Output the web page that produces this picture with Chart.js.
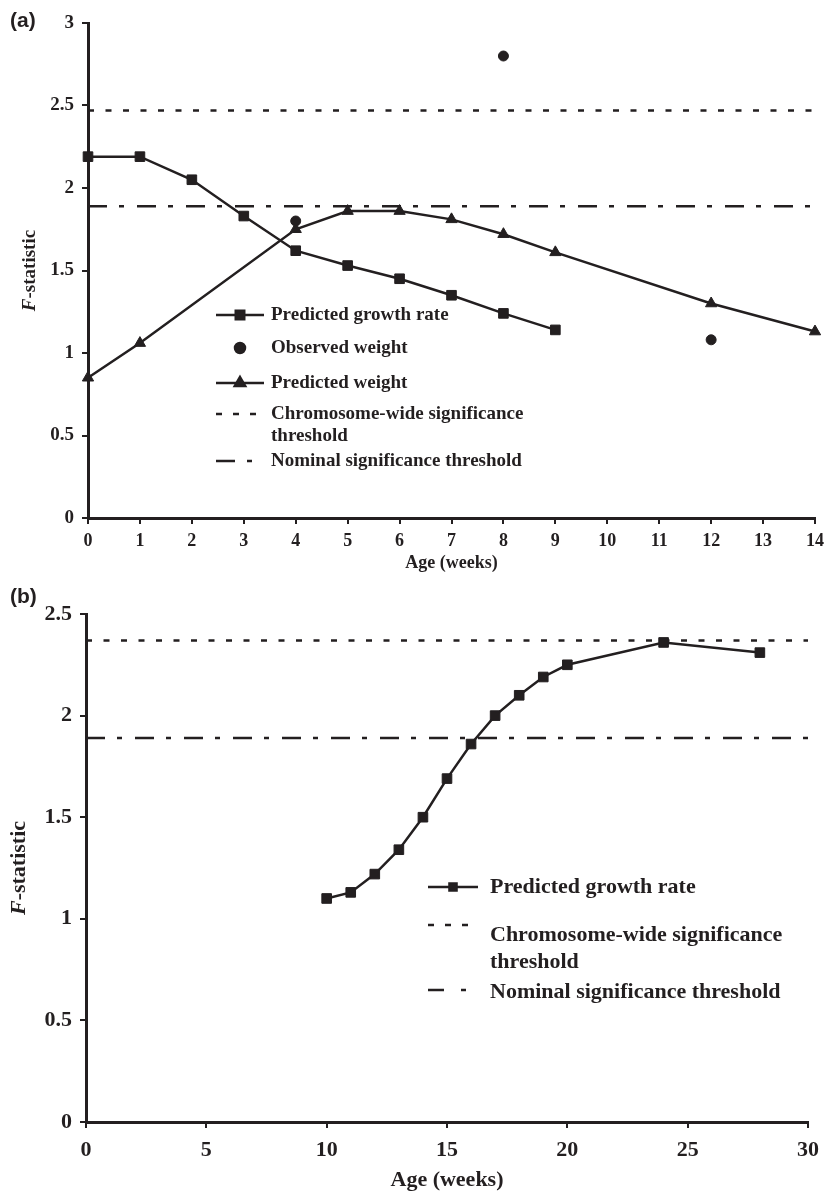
<!DOCTYPE html>
<html>
<head>
<meta charset="utf-8">
<script src="https://cdn.jsdelivr.net/npm/chart.js@4.4.1/dist/chart.umd.min.js"></script>
<style>
    html, body { margin: 0; padding: 0; background: #fff; }
    #chartA { position: absolute; left: 0; top: 0; }
    #chartB { position: absolute; left: 0; top: 575px; }
</style>
</head>
<body>
<canvas id="chartA" width="831" height="575"></canvas>
<canvas id="chartB" width="831" height="621"></canvas>
<script>
// ---- data, panel (a) ----
const growthWeeksA = [0, 1, 2, 3, 4, 5, 6, 7, 8, 9];
const growthRateA = [2.19, 2.19, 2.05, 1.83, 1.62, 1.53, 1.45, 1.35, 1.24, 1.14];
const weightWeeksA = [0, 1, 4, 5, 6, 7, 8, 9, 12, 14];
const predWeightA = [0.85, 1.06, 1.75, 1.86, 1.86, 1.81, 1.72, 1.61, 1.30, 1.13];
const obsWeeksA = [4, 8, 12];
const obsWeightA = [1.80, 2.80, 1.08];
const thresholdsA = [2.47, 1.89]; // chromosome-wide, nominal
const xTicksA = [0, 1, 2, 3, 4, 5, 6, 7, 8, 9, 10, 11, 12, 13, 14];
const yTicksA = [0, 0.5, 1, 1.5, 2, 2.5, 3];

// ---- data, panel (b) ----
const growthWeeksB = [10, 11, 12, 13, 14, 15, 16, 17, 18, 19, 20, 24, 28];
const growthRateB = [1.10, 1.13, 1.22, 1.34, 1.50, 1.69, 1.86, 2.00, 2.10, 2.19, 2.25, 2.36, 2.31];
const thresholdsB = [2.37, 1.89];
const xTicksB = [0, 5, 10, 15, 20, 25, 30];
const yTicksB = [0, 0.5, 1, 1.5, 2, 2.5];

const ink = '#231f20';
const serif = "'Liberation Serif', 'Times New Roman', serif";
const dotted = [6, 11.5];
const dashDot = [19, 12, 5, 13];

const pts = (xs, ys) => xs.map((x, i) => ({ x: x, y: ys[i] }));
const flat = (x0, x1, y) => [{ x: x0, y: y }, { x: x1, y: y }];

// draws panel letter, y title with italic F, and the in-plot legend
const overlay = {
    id: 'overlay',
    afterDraw(chart, args, o) {
        const ctx = chart.ctx;
        ctx.save();
        ctx.fillStyle = ink;
        ctx.strokeStyle = ink;

        // panel letter
        ctx.font = 'bold ' + o.letterSize + "px 'Liberation Sans', Arial, sans-serif";
        ctx.textBaseline = 'middle';
        ctx.textAlign = 'left';
        ctx.fillText(o.letter, o.letterX, o.letterY);

        // y title
        const area = chart.chartArea;
        const fItalic = 'italic bold ' + o.titleSize + 'px ' + serif;
        const fBold = 'bold ' + o.titleSize + 'px ' + serif;
        ctx.font = fItalic;
        const wF = ctx.measureText('F').width;
        ctx.font = fBold;
        const wR = ctx.measureText('-statistic').width;
        ctx.save();
        ctx.translate(o.titleX, (area.top + area.bottom) / 2);
        ctx.rotate(-Math.PI / 2);
        const start = -(wF + wR) / 2;
        ctx.font = fItalic;
        ctx.fillText('F', start, 0);
        ctx.font = fBold;
        ctx.fillText('-statistic', start + wF, 0);
        ctx.restore();

        // legend
        const L = o.legend;
        ctx.font = 'bold ' + L.size + 'px ' + serif;
        L.items.forEach(it => {
            ctx.lineWidth = 2.5;
            if (it.dash) {
                ctx.setLineDash(it.dash);
                ctx.beginPath();
                ctx.moveTo(L.x0, it.y);
                ctx.lineTo(L.x1, it.y);
                ctx.stroke();
                ctx.setLineDash([]);
            } else if (it.line) {
                ctx.beginPath();
                ctx.moveTo(L.x0, it.y);
                ctx.lineTo(L.x1, it.y);
                ctx.stroke();
            }
            if (it.marker) {
                Chart.helpers.drawPoint(ctx, { pointStyle: it.marker, radius: it.r, borderWidth: 1 },
                    (L.x0 + L.x1) / 2, it.y);
                ctx.fill();
            }
            it.text.forEach((t, k) => ctx.fillText(t, L.tx, it.ty + k * L.lineGap));
        });
        ctx.restore();
    }
};

function axes(xmin, xmax, xTicks, yTicks, o) {
    const font = size => ({ family: serif, size: size, weight: 'bold' });
    const grid = { drawOnChartArea: false, drawTicks: true, tickLength: 6, tickWidth: 2, tickColor: ink, color: ink, lineWidth: 2 };
    return {
        x: {
            type: 'linear', min: xmin, max: xmax,
            afterBuildTicks: s => { s.ticks = xTicks.map(v => ({ value: v })); },
            afterFit: s => { s.height = o.xHeight; },
            border: { display: true, color: ink, width: 3 },
            grid: grid,
            ticks: { color: ink, font: font(o.xTickSize), padding: o.xPad, maxRotation: 0, autoSkip: false,
                callback: v => String(v) },
            title: { display: true, text: 'Age (weeks)', color: ink,
                font: font(o.axisTitleSize), padding: { top: 0, bottom: o.titlePad } }
        },
        y: {
            type: 'linear', min: yTicks[0], max: yTicks[yTicks.length - 1],
            afterBuildTicks: s => { s.ticks = yTicks.map(v => ({ value: v })); },
            afterFit: s => { s.width = o.yWidth; },
            border: { display: true, color: ink, width: 3 },
            grid: grid,
            ticks: { color: ink, font: font(o.yTickSize), padding: 8, autoSkip: false,
                callback: v => String(v) }
        }
    };
}

const lineStyle = (marker, r) => ({
    borderColor: ink, backgroundColor: ink, borderWidth: 2.5,
    pointStyle: marker, pointRadius: r, pointHoverRadius: r, pointBorderWidth: 1, clip: false
});
const threshStyle = dash => ({
    borderColor: ink, borderWidth: 2.5, borderDash: dash, pointRadius: 0, clip: false
});

new Chart(document.getElementById('chartA'), {
    type: 'line',
    data: {
        datasets: [
            Object.assign({ label: 'Predicted growth rate', data: pts(growthWeeksA, growthRateA) }, lineStyle('rect', 6.8)),
            Object.assign({ label: 'Observed weight', data: pts(obsWeeksA, obsWeightA), showLine: false }, lineStyle('circle', 5)),
            Object.assign({ label: 'Predicted weight', data: pts(weightWeeksA, predWeightA) }, lineStyle('triangle', 6.5)),
            Object.assign({ label: 'Chromosome-wide significance threshold', data: flat(0, 14, thresholdsA[0]) }, threshStyle(dotted)),
            Object.assign({ label: 'Nominal significance threshold', data: flat(0, 14, thresholdsA[1]) }, threshStyle(dashDot))
        ]
    },
    options: {
        responsive: false,
        animation: false,
        layout: { padding: { left: 0, right: 9, top: 23, bottom: 0 } },
        scales: axes(0, 14, xTicksA, yTicksA, { xTickSize: 18, yTickSize: 19, xPad: 7, xHeight: 57, yWidth: 88, axisTitleSize: 18, titlePad: 1 }),
        plugins: {
            legend: { display: false },
            tooltip: { enabled: false },
            overlay: {
                letter: '(a)', letterSize: 21, letterX: 10, letterY: 21,
                titleSize: 19, titleX: 30,
                legend: {
                    size: 19, x0: 216, x1: 264, tx: 271, lineGap: 22,
                    items: [
                        { y: 315, ty: 315, line: true, marker: 'rect', r: 6, text: ['Predicted growth rate'] },
                        { y: 348, ty: 348, marker: 'circle', r: 5, text: ['Observed weight'] },
                        { y: 383, ty: 383, line: true, marker: 'triangle', r: 6, text: ['Predicted weight'] },
                        { y: 414, ty: 414, dash: [6, 11], text: ['Chromosome-wide significance', 'threshold'] },
                        { y: 461, ty: 461, dash: [19, 12, 5, 40], text: ['Nominal significance threshold'] }
                    ]
                }
            }
        }
    },
    plugins: [overlay]
});

new Chart(document.getElementById('chartB'), {
    type: 'line',
    data: {
        datasets: [
            Object.assign({ label: 'Predicted growth rate', data: pts(growthWeeksB, growthRateB) }, lineStyle('rect', 6.8)),
            Object.assign({ label: 'Chromosome-wide significance threshold', data: flat(0, 30, thresholdsB[0]) }, threshStyle(dotted)),
            Object.assign({ label: 'Nominal significance threshold', data: flat(0, 30, thresholdsB[1]) }, threshStyle(dashDot))
        ]
    },
    options: {
        responsive: false,
        animation: false,
        layout: { padding: { left: 0, right: 23, top: 39, bottom: 0 } },
        scales: axes(0, 30, xTicksB, yTicksB, { xTickSize: 22, yTickSize: 22, xPad: 9, xHeight: 74, yWidth: 86, axisTitleSize: 22, titlePad: 2 }),
        plugins: {
            legend: { display: false },
            tooltip: { enabled: false },
            overlay: {
                letter: '(b)', letterSize: 21, letterX: 10, letterY: 22,
                titleSize: 22, titleX: 19,
                legend: {
                    size: 22, x0: 428, x1: 478, tx: 490, lineGap: 27,
                    items: [
                        { y: 312, ty: 312, line: true, marker: 'rect', r: 5, text: ['Predicted growth rate'] },
                        { y: 350, ty: 360, dash: [6, 11], text: ['Chromosome-wide significance', 'threshold'] },
                        { y: 415, ty: 417, dash: [16, 17, 5, 40], text: ['Nominal significance threshold'] }
                    ]
                }
            }
        }
    },
    plugins: [overlay]
});
</script>
</body>
</html>
